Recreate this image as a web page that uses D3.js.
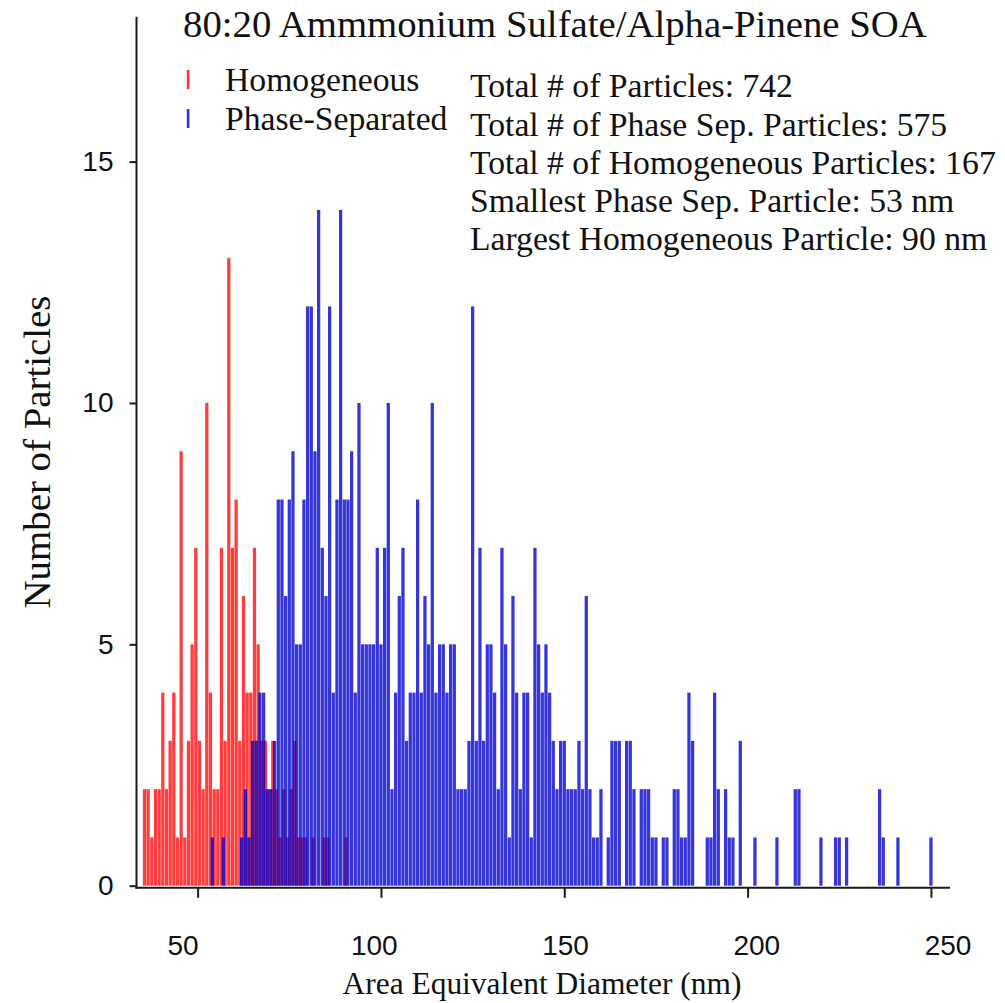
<!DOCTYPE html>
<html><head><meta charset="utf-8">
<script src="https://cdn.jsdelivr.net/npm/d3@7"></script>
<style>body{margin:0;background:#fff}svg{display:block}</style>
</head><body>
<svg id="c" width="1005" height="1003"></svg>
<script>
// ---------- data ----------
const chartTitle = "80:20 Ammmonium Sulfate/Alpha-Pinene SOA";
const xLabel = "Area Equivalent Diameter (nm)";
const yLabel = "Number of Particles";
const seriesNames = ["Homogeneous", "Phase-Separated"];
const statLines = [
  "Total # of Particles: 742",
  "Total # of Phase Sep. Particles: 575",
  "Total # of Homogeneous Particles: 167",
  "Smallest Phase Sep. Particle: 53 nm",
  "Largest Homogeneous Particle: 90 nm"
];
const xTicks = [50, 100, 150, 200, 250];
const yTicks = [0, 5, 10, 15];

// Homogeneous: 1-nm bins starting at 35 nm
const homogeneousBinStart = 35;
const homogeneousCounts = [
  2,2,1,2,2,4,2,3,4,1,
  9,1,3,5,7,3,2,10,4,2,
  2,7,3,13,7,8,3,6,4,4,
  7,5,3,3,2,3,2,1,2,1,
  2,3,1,1,1,0,1,0,0,1,
  1,0,0,0,0,1
];
// Phase-separated: 1-nm bins starting at 53.5 nm
const phaseSepBinStart = 53.5;
const phaseSepCounts = [
  1,0,0,1,0,0,0,0,1,2,
  1,3,3,4,4,2,2,3,8,8,
  6,8,9,5,5,8,12,12,9,14,
  7,6,12,4,8,14,8,8,9,4,
  10,5,5,5,5,7,5,7,10,2,
  4,6,7,3,4,4,8,4,6,5,
  10,4,5,5,4,5,5,2,2,2,
  3,12,3,7,3,5,5,4,2,7,
  5,1,6,4,2,4,4,1,7,5,
  4,5,4,3,2,3,3,2,2,2,
  3,2,6,2,1,1,2,0,1,3,
  3,3,0,3,3,2,0,2,2,2,
  1,1,0,1,1,0,2,2,1,1,
  4,3,0,0,0,1,1,4,2,0,
  2,1,1,0,3,0,0,0,1,0,
  0,0,0,0,1,0,0,0,0,2,
  2,0,0,0,0,0,1,0,0,0,
  1,1,0,1,0,0,0,0,0,0,
  0,0,2,1,0,0,0,1,0,0,
  0,0,0,0,0,0,1
];

// ---------- drawing ----------
const svg = d3.select("#c");
const x = d3.scaleLinear().domain([33.6, 255.2]).range([137.5, 950]);
const y = d3.scaleLinear().domain([0, 18]).range([885.7, 16.8]);
// tick labels in the original are spread slightly wider than the tick marks
const xLabelPos = d3.scaleLinear().domain([50, 250]).range([183, 948]);

const redFill = "rgb(255,0,0)", blueFill = "rgb(0,0,205)";

function drawBars(counts, start, fill, op) {
  const data = counts.map((v, i) => ({lo: start + i, v})).filter(d => d.v > 0);
  svg.append("g").selectAll("rect").data(data).join("rect")
    .attr("x", d => x(d.lo) + 0.2)
    .attr("width", d => x(d.lo + 1) - x(d.lo) - 0.4)
    .attr("y", d => y(d.v))
    .attr("height", d => y(0) - y(d.v))
    .attr("fill", fill).attr("fill-opacity", op);
}
drawBars(homogeneousCounts, homogeneousBinStart, redFill, 0.76);
drawBars(phaseSepCounts, phaseSepBinStart, blueFill, 0.79);

// axes
const axisColor = "#1a1a1a";
const xa = svg.append("g").attr("transform", "translate(0,887.8)")
  .call(d3.axisBottom(x).tickValues(xTicks).tickSize(10).tickSizeOuter(0).tickFormat(""));
const ya = svg.append("g").attr("transform", "translate(136.5,0)")
  .call(d3.axisLeft(y).tickValues(yTicks).tickSize(7).tickSizeOuter(0).tickPadding(16));
[xa, ya].forEach(g => {
  g.select(".domain").remove();
  g.selectAll(".tick line").attr("stroke", axisColor).attr("stroke-width", 2);
  g.selectAll(".tick text").attr("fill", "#111")
    .style("font-family", "'Liberation Sans', Arial, sans-serif").style("font-size", "28px");
});
svg.append("g").selectAll("text").data(xTicks).join("text")
  .attr("x", d => xLabelPos(d)).attr("y", 955)
  .attr("text-anchor", "middle").attr("fill", "#111")
  .style("font-family", "'Liberation Sans', Arial, sans-serif").style("font-size", "28px")
  .text(d => d);
svg.append("line").attr("x1", 136.5).attr("x2", 136.5).attr("y1", y(18)).attr("y2", 888.8)
  .attr("stroke", axisColor).attr("stroke-width", 2);
svg.append("line").attr("x1", 135.5).attr("x2", 950).attr("y1", 887.8).attr("y2", 887.8)
  .attr("stroke", axisColor).attr("stroke-width", 2);

// text helpers
const serif = "'Liberation Serif', 'Times New Roman', serif";
function addText(str, xx, yy, fs, anchor) {
  return svg.append("text").text(str).attr("x", xx).attr("y", yy)
    .attr("font-family", serif).attr("font-size", fs).attr("fill", "#111")
    .attr("text-anchor", anchor || "start");
}
function fitSize(sel, target) {
  const L = sel.node().getComputedTextLength();
  const fs = parseFloat(sel.attr("font-size"));
  return fs * target / L;
}

const t = addText(chartTitle, 183, 37, 36);
t.attr("font-size", fitSize(t, 744));

// stats block
const statBase = [97, 136, 174, 212, 250];
const statTargets = [327, 465, 530, 485, 520];
const statSel = statLines.map((s, i) => addText(s, 470, statBase[i], 32));
const statFs = d3.mean(statSel.map((s, i) => fitSize(s, statTargets[i])));
statSel.forEach(s => s.attr("font-size", statFs));

// legend
const legBase = [91, 130];
const legCol = [redFill, blueFill];
seriesNames.forEach((n, i) => {
  addText(n, 225, legBase[i], statFs);
  svg.append("rect").attr("x", 186.8).attr("width", 2.6)
    .attr("y", legBase[i] - 21).attr("height", 19)
    .attr("fill", legCol[i]).attr("fill-opacity", 0.8);
});

// axis titles
const xt = addText(xLabel, 542, 994, 34, "middle");
xt.attr("font-size", fitSize(xt, 399));
const yt = svg.append("text").text(yLabel)
  .attr("transform", "translate(50,452) rotate(-90)")
  .attr("text-anchor", "middle").attr("font-family", serif).attr("font-size", 34).attr("fill", "#111");
yt.attr("font-size", fitSize(yt, 313));
</script>
</body></html>
